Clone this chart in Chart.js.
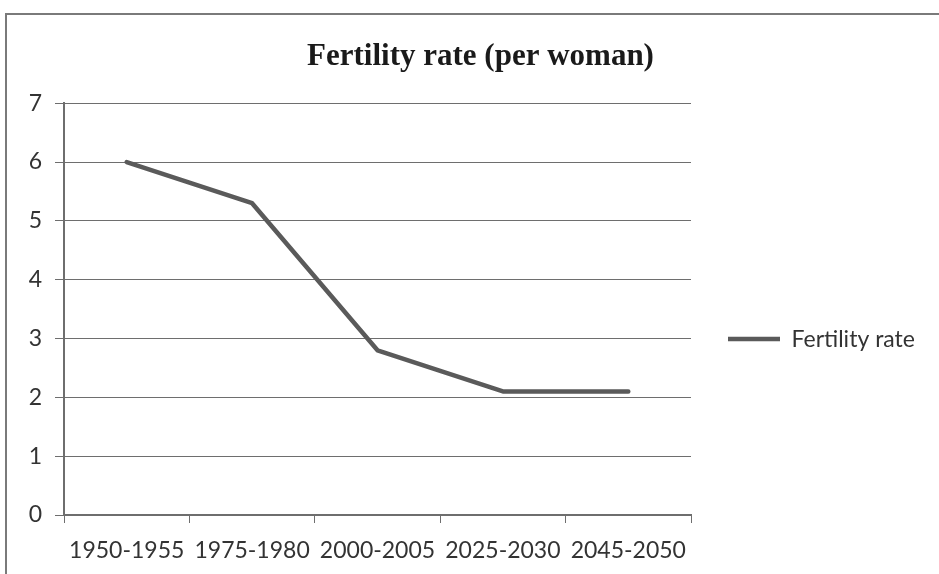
<!DOCTYPE html>
<html>
<head>
<meta charset="utf-8">
<script src="https://cdn.jsdelivr.net/npm/chart.js@4/dist/chart.umd.min.js"></script>
<style>
  body { margin: 0; background: #fff; }
  #wrap { position: relative; width: 939px; height: 574px; overflow: hidden; }
  #frame { position: absolute; left: 5px; top: 13px; width: 1000px; height: 600px;
           border-left: 2px solid #7a7a7a; border-top: 2px solid #7a7a7a; }
  #chart { position: absolute; left: 0; top: 0; }
</style>
</head>
<body>
<div id="wrap">
  <div id="frame"></div>
  <canvas id="chart" width="939" height="574"></canvas>
</div>
<script>
// data
const periods = ["1950-1955", "1975-1980", "2000-2005", "2025-2030", "2045-2050"];
const fertility = [6.0, 5.3, 2.8, 2.1, 2.1];
const yTicks = [0, 1, 2, 3, 4, 5, 6, 7];

const gray = "#5a5a5a";
const gridGray = "#6e6e6e";
const labelFont = { family: "Lato", size: 23 };
const legendWidth = 248;

// keep the legend column a fixed width so the plot ends where the original does
const legendSize = {
  id: "legendSize",
  beforeLayout(chart) {
    const lg = chart.legend;
    if (lg && !lg._sized) {
      const fit = lg.fit;
      lg.fit = function () {
        fit.call(this);
        this.width = legendWidth;
      };
      lg._sized = true;
    }
  }
};

const ctx = document.getElementById("chart");

const chart = new Chart(ctx, {
  type: "line",
  data: {
    labels: periods,
    datasets: [{
      label: "Fertility rate",
      data: fertility,
      borderColor: gray,
      backgroundColor: gray,
      borderWidth: 4.5,
      borderCapStyle: "round",
      borderJoinStyle: "round",
      pointRadius: 0,
      tension: 0
    }]
  },
  plugins: [legendSize],
  options: {
    responsive: false,
    animation: false,
    layout: { padding: { left: 22, right: 0, top: 0, bottom: 0 } },
    plugins: {
      title: {
        display: true,
        text: "Fertility rate (per woman)",
        color: "#1a1a1a",
        font: { family: "Liberation Serif", size: 31, weight: "bold" },
        padding: { top: 38, bottom: 28 }
      },
      legend: {
        position: "right",
        align: "center",
        fullSize: false,
        maxWidth: 300,
        // empty title only used as a spacer to push the entry down
        title: { display: true, text: " ", font: { size: 10 }, padding: { top: 0, bottom: 48 } },
        labels: {
          usePointStyle: true,
          pointStyle: "line",
          pointStyleWidth: 52,
          boxHeight: 4,
          color: "#333",
          font: labelFont,
          padding: 37
        }
      },
      tooltip: { enabled: false }
    },
    scales: {
      x: {
        offset: true,
        afterFit: axis => { axis.height = 59; },
        grid: {
          offset: true,
          drawOnChartArea: false,
          drawTicks: true,
          tickLength: 8,
          color: gridGray
        },
        border: { color: gridGray, width: 2 },
        ticks: { color: "#333", font: labelFont, padding: 14, maxRotation: 0 }
      },
      y: {
        min: 0,
        max: 7,
        afterBuildTicks: axis => { axis.ticks = yTicks.map(v => ({ value: v })); },
        afterFit: axis => { axis.width = 42; },
        grid: { color: gridGray, lineWidth: 1, tickLength: 9 },
        border: { color: gridGray, width: 2 },
        ticks: { color: "#333", font: labelFont, padding: 13 }
      }
    }
  }
});
</script>
</body>
</html>
